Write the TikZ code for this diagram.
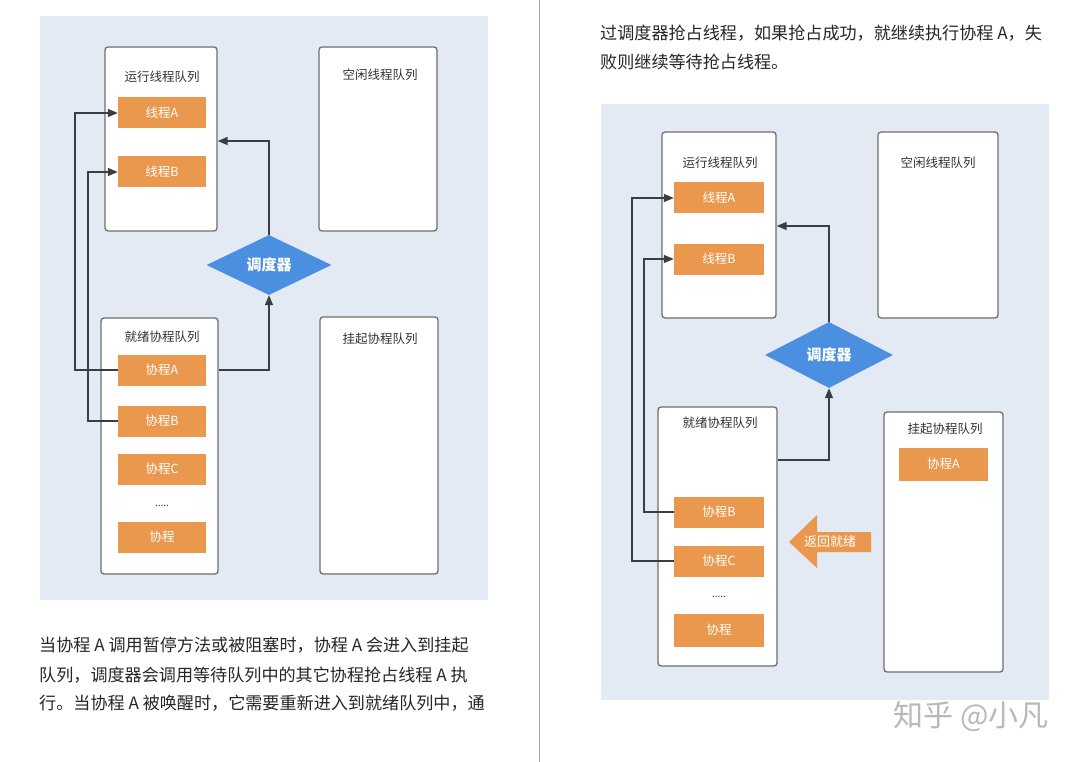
\documentclass[tikz,border=0pt]{standalone}
\usepackage{fontspec}
\setmainfont{Noto Sans CJK SC}
\usetikzlibrary{arrows.meta,shapes.geometric}
\definecolor{bgblue}{HTML}{E3EAF4}
\definecolor{frame}{HTML}{6E6E6E}
\definecolor{orng}{HTML}{E9984D}
\definecolor{dblue}{HTML}{4A8FE0}
\definecolor{txt}{HTML}{262626}
\definecolor{lbl}{HTML}{333333}
\definecolor{conn}{HTML}{3A3D42}
\tikzset{
  queuebox/.style={draw=frame, line width=1.3pt, fill=white, rounded corners=3pt, inner sep=0pt},
  qtitle/.style={text=lbl, font=\fontsize{12.5}{14}\selectfont, inner sep=0pt},
  item/.style={fill=orng, text=white, font=\fontsize{12.5}{14}\selectfont, minimum width=88pt, minimum height=31pt, inner sep=0pt},
  sched/.style={diamond, aspect=2, fill=dblue, text=white, font=\bfseries\fontsize{15}{17}\selectfont, inner sep=0pt},
  arr/.style={draw=conn, line width=1.4pt, -{Triangle[length=10pt,width=8pt]}},
  body/.style={text=txt, font=\fontsize{17.1}{20}\selectfont, anchor=west, inner sep=0pt},
  dots/.style={text=lbl, font=\fontsize{10}{12}\selectfont, inner sep=0pt}
}
\begin{document}
\begin{tikzpicture}[x=1pt,y=-1pt]
\fill[white] (0,0) rectangle (1084,762);
\useasboundingbox (0,0) rectangle (1084,762);
% divider
\draw[draw=gray!70, line width=1pt] (539,0) -- (539,762);

%% ---------------- left diagram ----------------
\fill[bgblue] (40,16) rectangle (488,600);
\node[queuebox, minimum width=112pt, minimum height=184pt] (run1) at (161,139) {};
\node[qtitle] (run1t) at (162,77) {运行线程队列};
\node[item] (tA1) at (162,113) {线程A};
\node[item] (tB1) at (162,172) {线程B};
\node[queuebox, minimum width=118pt, minimum height=184pt] (idle1) at (378,139) {};
\node[qtitle] (idle1t) at (380,75) {空闲线程队列};
\node[sched, minimum width=125pt, minimum height=60pt] (sched1) at (269,265) {调度器};
\node[queuebox, minimum width=117pt, minimum height=256pt] (ready1) at (159.5,446) {};
\node[qtitle] (ready1t) at (162,337) {就绪协程队列};
\node[item] (cA1) at (162,370) {协程A};
\node[item] (cB1) at (162,421) {协程B};
\node[item] (cC1) at (162,469) {协程C};
\node[dots] (dots1) at (162,506) {.....};
\node[item] (cX1) at (162,537) {协程};
\node[queuebox, minimum width=118pt, minimum height=257pt] (susp1) at (379,445.5) {};
\node[qtitle] (susp1t) at (380,339) {挂起协程队列};
\coordinate (run1in) at (run1.east |- 0,141);
\draw[arr] (sched1.north) |- (run1in);
\draw[arr] (ready1.east |- cA1) -| (sched1.south);
\draw[arr] (cA1.west) -- ++(-43,0) |- (tA1.west);
\draw[arr] (cB1.west) -- ++(-30,0) |- (tB1.west);

%% ---------------- right diagram ----------------
\node[body] (p1) at (600,33) {过调度器抢占线程，如果抢占成功，就继续执行协程 A，失};
\node[body] (p2) at (600,62) {败则继续等待抢占线程。};
\fill[bgblue] (601,104) rectangle (1049,700);
\node[queuebox, minimum width=114pt, minimum height=186pt] (run2) at (719,225) {};
\node[qtitle] (run2t) at (720,163) {运行线程队列};
\node[item, minimum width=90pt] (tA2) at (719,198) {线程A};
\node[item, minimum width=90pt] (tB2) at (719,259) {线程B};
\node[queuebox, minimum width=120pt, minimum height=186pt] (idle2) at (938,225) {};
\node[qtitle] (idle2t) at (938,163) {空闲线程队列};
\node[sched, minimum width=128pt, minimum height=66pt] (sched2) at (829,355) {调度器};
\node[queuebox, minimum width=119pt, minimum height=259pt] (ready2) at (717.5,536.5) {};
\node[qtitle] (ready2t) at (720,423) {就绪协程队列};
\node[item, minimum width=90pt] (cB2) at (719,512) {协程B};
\node[item, minimum width=90pt] (cC2) at (719,561) {协程C};
\node[dots] (dots2) at (719,597) {.....};
\node[item, minimum width=90pt, minimum height=33pt] (cX2) at (719,630) {协程};
\node[queuebox, minimum width=119pt, minimum height=260pt] (susp2) at (943.5,542) {};
\node[qtitle] (susp2t) at (945,429) {挂起协程队列};
\node[item, minimum width=89pt, minimum height=33pt] (sA2) at (943.5,464) {协程A};
% return-to-ready block arrow
\fill[orng] (789,542) -- (817,515) -- (817,532) -- (871,532) -- (871,552) -- (817,552) -- (817,568) -- cycle;
\node[text=white, font=\fontsize{13}{15}\selectfont, inner sep=0pt] (ret) at (830,542) {返回就绪};
\coordinate (run2in) at (run2.east |- 0,226);
\coordinate (ready2out) at (ready2.east |- 0,460);
\draw[arr] (sched2.north) |- (run2in);
\draw[arr] (ready2out) -| (sched2.south);
\draw[arr] (cB2.west) -- ++(-30,0) |- (tB2.west);
\draw[arr] (cC2.west) -- ++(-42,0) |- (tA2.west);

% watermark
\node[text=gray!55, font=\fontsize{30}{32}\selectfont, inner sep=0pt] (wm) at (971,716) {知乎 @小凡};

%% ---------------- left body text ----------------
\node[body] (q1) at (39,645) {当协程 A 调用暂停方法或被阻塞时，协程 A 会进入到挂起};
\node[body] (q2) at (39,675) {队列，调度器会调用等待队列中的其它协程抢占线程 A 执};
\node[body] (q3) at (39,703) {行。当协程 A 被唤醒时，它需要重新进入到就绪队列中，通};
\end{tikzpicture}
\end{document}
